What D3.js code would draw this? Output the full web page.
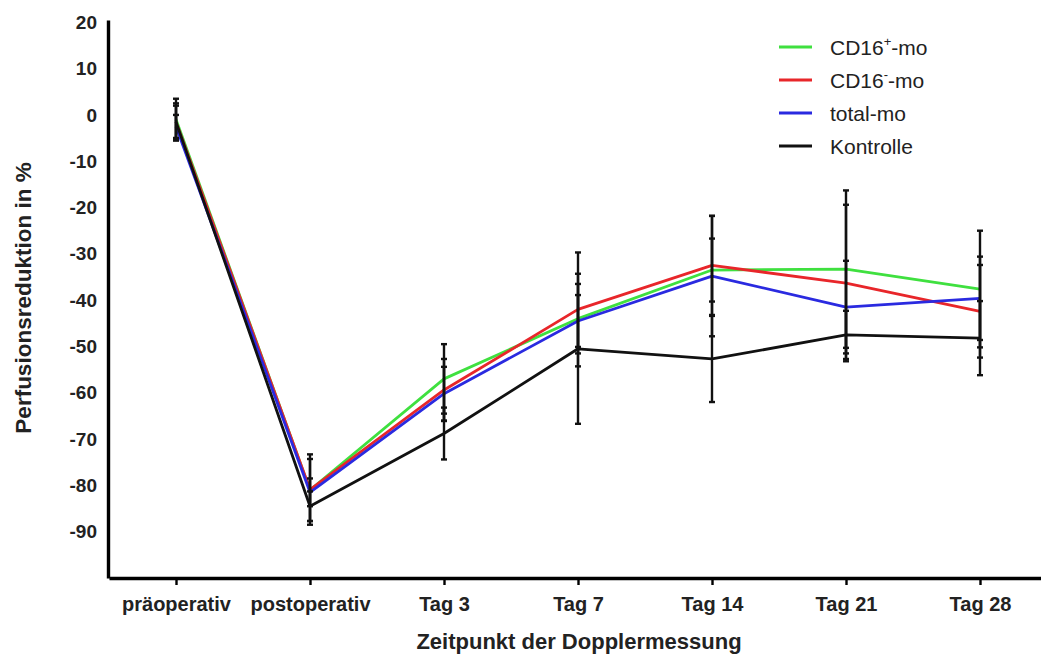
<!DOCTYPE html>
<html>
<head>
<meta charset="utf-8">
<script src="https://cdn.jsdelivr.net/npm/d3@7"></script>
<style>
  html, body { margin: 0; padding: 0; background: #fff; }
  svg { display: block; font-family: "Liberation Sans", Arial, sans-serif; }
</style>
</head>
<body>
<svg id="chart" width="1041" height="655"></svg>
<script>
// Measurement time points
const categories = ["präoperativ", "postoperativ", "Tag 3", "Tag 7", "Tag 14", "Tag 21", "Tag 28"];

// Mean perfusion reduction (%) per group
const cd16PlusMean  = [-1.0, -81.0, -57.0, -44.0, -33.5, -33.3, -37.6];
const cd16MinusMean = [-1.5, -80.9, -59.4, -42.0, -32.5, -36.3, -42.4];
const totalMean     = [-2.5, -81.5, -60.2, -44.5, -34.8, -41.5, -39.6];
const kontrolleMean = [-1.5, -84.5, -68.8, -50.5, -52.7, -47.5, -48.2];

// Error (±) per group
const cd16PlusErr  = [4.5, 6.7, 7.5, 7.5, 6.8, 17.0, 12.6];
const cd16MinusErr = [3.5, 7.6, 6.7, 12.3, 10.7, 16.9, 10.0];
const totalErr     = [2.5, 3.0, 5.8, 5.6, 13.0, 10.0, 9.0];
const kontrolleErr = [4.0, 3.2, 5.6, 16.2, 9.3, 5.2, 8.0];

const yTicks = [20, 10, 0, -10, -20, -30, -40, -50, -60, -70, -80, -90];

const seriesNames  = ["CD16+-mo", "CD16--mo", "total-mo", "Kontrolle"];
const seriesColors = ["#3fe03f", "#e8262a", "#2a2ae0", "#111111"];

const series = [
  { name: seriesNames[0], color: seriesColors[0], mean: cd16PlusMean,  err: cd16PlusErr },
  { name: seriesNames[1], color: seriesColors[1], mean: cd16MinusMean, err: cd16MinusErr },
  { name: seriesNames[2], color: seriesColors[2], mean: totalMean,     err: totalErr },
  { name: seriesNames[3], color: seriesColors[3], mean: kontrolleMean, err: kontrolleErr }
];

const svg = d3.select("#chart");

const x = d3.scalePoint().domain(categories).range([109, 1047]).padding(0.5);
const y = d3.scaleLinear().domain([-100, 20.5]).range([578, 20]);

// Data lines
const line = d3.line()
  .x((d, i) => x(categories[i]))
  .y(d => y(d));

svg.append("g").selectAll("path")
  .data(series)
  .join("path")
  .attr("fill", "none")
  .attr("stroke", d => d.color)
  .attr("stroke-width", 2.8)
  .attr("stroke-linejoin", "round")
  .attr("d", d => line(d.mean));

// Error bars (black, drawn above the lines)
const errData = [];
series.forEach(s => {
  s.mean.forEach((m, i) => {
    errData.push({ cx: x(categories[i]), lo: m - s.err[i], hi: m + s.err[i] });
  });
});

const eb = svg.append("g").attr("stroke", "#111").attr("stroke-width", 2.4);
eb.selectAll("line.v").data(errData).join("line")
  .attr("class", "v")
  .attr("x1", d => d.cx).attr("x2", d => d.cx)
  .attr("y1", d => y(d.hi)).attr("y2", d => y(d.lo));
eb.selectAll("line.t").data(errData).join("line")
  .attr("class", "t")
  .attr("x1", d => d.cx - 3).attr("x2", d => d.cx + 3)
  .attr("y1", d => y(d.hi)).attr("y2", d => y(d.hi));
eb.selectAll("line.b").data(errData).join("line")
  .attr("class", "b")
  .attr("x1", d => d.cx - 3).attr("x2", d => d.cx + 3)
  .attr("y1", d => y(d.lo)).attr("y2", d => y(d.lo));

// Y axis
const yAxis = svg.append("g")
  .attr("transform", "translate(108,0)")
  .call(d3.axisLeft(y).tickValues(yTicks).tickFormat(d => String(d)).tickSize(0).tickPadding(11));
yAxis.select(".domain").attr("stroke", "#000").attr("stroke-width", 3.4);
yAxis.selectAll("text")
  .attr("font-size", 19).attr("font-weight", "bold").attr("fill", "#222")
  .attr("font-family", "Liberation Sans, Arial, sans-serif");

// X axis
const xAxis = svg.append("g")
  .attr("transform", "translate(0,578)")
  .call(d3.axisBottom(x).tickSize(7).tickPadding(12).tickSizeOuter(0));
xAxis.select(".domain").attr("stroke", "#000").attr("stroke-width", 3.4);
xAxis.selectAll(".tick line").attr("stroke", "#000").attr("stroke-width", 2.4);
xAxis.selectAll("text")
  .attr("font-size", 20).attr("font-weight", "bold").attr("fill", "#222")
  .attr("font-family", "Liberation Sans, Arial, sans-serif");

// Axis titles
svg.append("text")
  .attr("x", 579).attr("y", 649)
  .attr("text-anchor", "middle")
  .attr("font-size", 22).attr("font-weight", "bold").attr("fill", "#222")
  .text("Zeitpunkt der Dopplermessung");

svg.append("text")
  .attr("transform", "translate(31,298) rotate(-90)")
  .attr("text-anchor", "middle")
  .attr("font-size", 22.5).attr("font-weight", "bold").attr("fill", "#222")
  .text("Perfusionsreduktion in %");

// Legend
const legend = svg.append("g");
const legendRows = [
  { color: seriesColors[0], base: "CD16", sup: "+", tail: "-mo" },
  { color: seriesColors[1], base: "CD16", sup: "-", tail: "-mo" },
  { color: seriesColors[2], base: "total-mo", sup: "", tail: "" },
  { color: seriesColors[3], base: "Kontrolle", sup: "", tail: "" }
];
legendRows.forEach((r, i) => {
  const ly = 47 + i * 33;
  legend.append("line")
    .attr("x1", 779).attr("x2", 812).attr("y1", ly).attr("y2", ly)
    .attr("stroke", r.color).attr("stroke-width", 2.8);
  const t = legend.append("text")
    .attr("x", 830).attr("y", ly + 8)
    .attr("font-size", 21).attr("fill", "#222");
  t.append("tspan").text(r.base);
  if (r.sup) {
    t.append("tspan").attr("dy", -9).attr("font-size", 13).text(r.sup);
    t.append("tspan").attr("dy", 9).text(r.tail);
  }
});
</script>
</body>
</html>
